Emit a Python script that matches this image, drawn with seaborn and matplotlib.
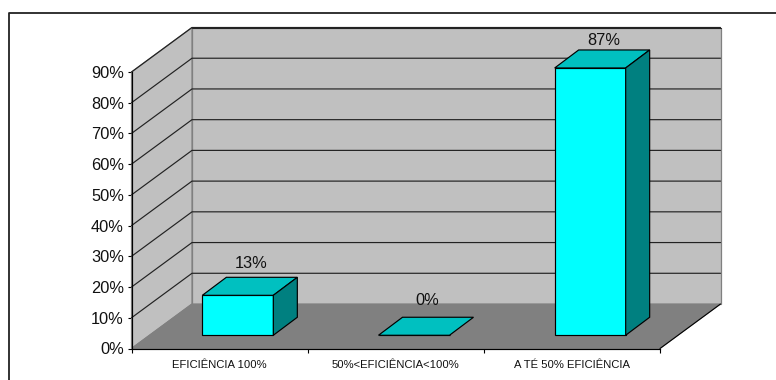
import matplotlib
matplotlib.use("Agg")
import matplotlib.pyplot as plt
from matplotlib.lines import Line2D
from matplotlib.patches import Polygon
from matplotlib.ticker import FixedLocator, FixedFormatter
import seaborn as sns

categories = ["EFICIÊNCIA 100%", "50%<EFICIÊNCIA<100%", "A TÉ 50% EFICIÊNCIA"]
values = [13, 0, 87]
tick_values = [0, 10, 20, 30, 40, 50, 60, 70, 80, 90]
tick_labels = ["0%", "10%", "20%", "30%", "40%", "50%", "60%", "70%", "80%", "90%"]

# Page geometry in pixels
W, H = 776, 380
X0, X1 = 131.5, 660.0      # front floor edge
Y0, Y90 = 348.5, 72.0      # 0% and 90% on the front axis
DX, DY = 60.5, 44.5        # depth of the box
BAR_W = 71.0
BAR_DX, BAR_DY = 24.0, 18.0  # depth of a bar
LABEL_PADS = [14, 17, 9]     # gap from bar top to its label, px

sns.set_style("white")
plt.rcParams["font.family"] = ["Liberation Sans", "DejaVu Sans"]

fig = plt.figure(figsize=(W / 100, H / 100), dpi=100, facecolor="white")

px_x = (X1 - X0) / 3           # pixels per category
px_y = (Y0 - Y90) / 90         # pixels per percent
top_val = 90 + DY / px_y
right_cat = -0.5 + (X1 - X0 + DX) / px_x
ax = fig.add_axes([X0 / W, (H - Y0) / H, (X1 - X0 + DX) / W, (Y0 - Y90 + DY) / H])
ax.patch.set_alpha(0)

depth_x, depth_y = DX / px_x, DY / px_y
bar_x, bar_y = BAR_DX / px_x, BAR_DY / px_y
# Bars stand in the middle of the floor
lift_x = (DX - BAR_DX) / 2 / px_x
lift_y = (DY - BAR_DY) / 2 / px_y

sns.barplot(x=categories, y=values, order=categories, color="#00FFFF", saturation=1,
            width=BAR_W / px_x, edgecolor="black", linewidth=0.85, ax=ax, zorder=5)
ax.set_xlim(-0.5, right_cat)
ax.set_ylim(0, top_val)
ax.set(xlabel="", ylabel="")

# Walls and floor of the box
xa, xb = -0.5, 2.5
wall_grey = "#C0C0C0"
edge_grey = "#808080"
ax.add_patch(Polygon([(xa + depth_x, depth_y), (xb + depth_x, depth_y),
                      (xb + depth_x, 90 + depth_y), (xa + depth_x, 90 + depth_y)],
                     fc=wall_grey, ec=edge_grey, lw=0.9, zorder=1, clip_on=False))
ax.add_patch(Polygon([(xa, 0), (xa + depth_x, depth_y), (xa + depth_x, 90 + depth_y), (xa, 90)],
                     fc=wall_grey, ec=edge_grey, lw=0.9, zorder=1, clip_on=False))
ax.add_patch(Polygon([(xa, 0), (xb, 0), (xb + depth_x, depth_y), (xa + depth_x, depth_y)],
                     fc=edge_grey, ec=edge_grey, lw=0.8, zorder=1, clip_on=False))
ax.plot([xb, xb + depth_x], [0, depth_y], color="black", lw=0.8, zorder=2, clip_on=False)

# Gridlines run along the side wall and across the back wall
for t in tick_values[1:]:
    ax.plot([xa, xa + depth_x, xb + depth_x], [t, t + depth_y, t + depth_y],
            color="#222222", lw=0.85, zorder=2, clip_on=False)
ax.plot([xa + depth_x, xb + depth_x], [90 + depth_y] * 2, color="#222222", lw=0.75,
        zorder=2, clip_on=False)

# Move the front faces onto the floor and add the top and side of each bar
for bar, value, pad in zip(ax.containers[0], values, LABEL_PADS):
    x = bar.get_x() + lift_x
    w = bar.get_width()
    bar.set_x(x)
    bar.set_y(lift_y)
    y_low, y_top = lift_y, lift_y + value
    ax.add_patch(Polygon([(x, y_top), (x + w, y_top), (x + w + bar_x, y_top + bar_y), (x + bar_x, y_top + bar_y)],
                         fc="#00C0C0", ec="black", lw=0.85, zorder=6))
    if value > 0:
        ax.add_patch(Polygon([(x + w, y_low), (x + w + bar_x, y_low + bar_y),
                              (x + w + bar_x, y_top + bar_y), (x + w, y_top)],
                             fc="#008080", ec="black", lw=0.85, zorder=6))
    ax.annotate(f"{value}%", xy=(x + w / 2 + bar_x / 2, y_top + bar_y), xytext=(1, pad * 0.72),
                textcoords="offset points", ha="center", va="center",
                fontsize=11.8, color="#111111", zorder=7)

# Axes
sns.despine(ax=ax, top=True, right=True)
ax.spines["left"].set_bounds(0, 90)
ax.spines["bottom"].set_bounds(xa, xb)
for side in ("left", "bottom"):
    ax.spines[side].set_color("black")
    ax.spines[side].set_linewidth(0.85)
    ax.spines[side].set_zorder(4)

ax.set_yticks(tick_values)
ax.set_yticklabels(tick_labels, fontsize=11.8, color="#111111")
ax.tick_params(axis="y", left=True, length=3, width=0.8, color="black", pad=2.5)

ax.xaxis.set_major_locator(FixedLocator([-0.5, 0.5, 1.5, 2.5]))
ax.xaxis.set_major_formatter(FixedFormatter(["", "", "", ""]))
ax.xaxis.set_minor_locator(FixedLocator([0, 1, 2]))
ax.xaxis.set_minor_formatter(FixedFormatter(categories))
ax.tick_params(axis="x", which="major", bottom=True, length=3, width=0.8, color="black")
ax.tick_params(axis="x", which="minor", bottom=False, length=0, pad=8, labelsize=8.1, labelcolor="#111111")

# Page border, open at the right and bottom edges
fig.add_artist(Line2D([8.5 / W, 8.5 / W, 1], [0, 1 - 13 / H, 1 - 13 / H], color="#222222", lw=1.3))

fig.savefig("out.png", dpi=100, facecolor="white")
